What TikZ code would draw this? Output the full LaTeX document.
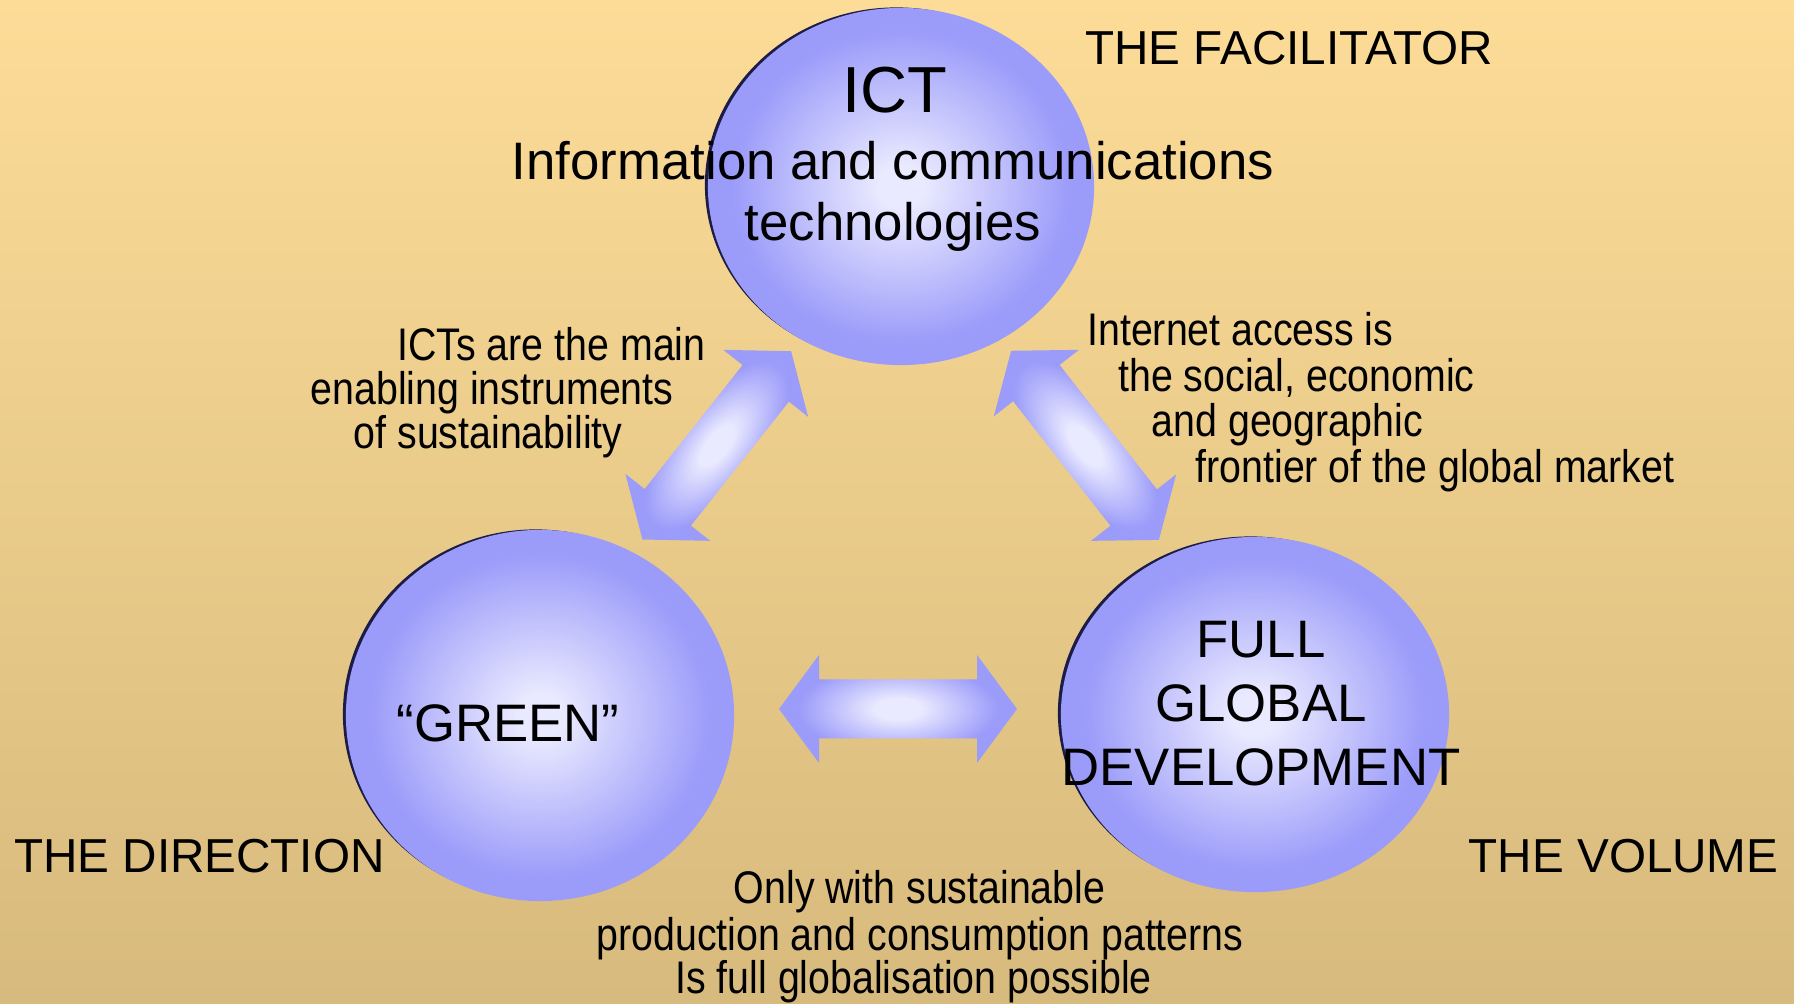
\documentclass[tikz,border=0pt]{standalone}
\usepackage{fontspec}
\setmainfont{Liberation Sans}
\newfontfamily\narrowfont[FakeStretch=0.86]{Liberation Sans}
\usepackage{xcolor}
\usepackage{tikz}
\usetikzlibrary{shapes.geometric}

\definecolor{bgtop}{RGB}{252,220,151}
\definecolor{bgbottom}{RGB}{215,186,125}
\definecolor{ballin}{RGB}{233,233,255}
\definecolor{ballout}{RGB}{155,155,250}
\definecolor{rim}{RGB}{28,28,72}
\pgfdeclareradialshading{ballshade}{\pgfpoint{0bp}{0bp}}{color(0bp)=(ballin); color(3bp)=(ballin); color(22bp)=(ballout); color(25bp)=(ballout); color(50bp)=(ballout)}
\pgfdeclareradialshading{arrowshade}{\pgfpoint{0bp}{0bp}}{color(0bp)=(ballin); color(5bp)=(ballin); color(21bp)=(ballout); color(50bp)=(ballout)}

\begin{document}
\begin{tikzpicture}[x=0.01cm, y=-0.01cm,
        ball/.style={ellipse, shading=ballshade, inner sep=0},
        role/.style={inner sep=0, font=\fontsize{13.55}{16}\selectfont},
        big/.style={inner sep=0, font=\fontsize{15}{18}\selectfont},
        note/.style={inner sep=0, font=\narrowfont\fontsize{13}{15}\selectfont},
        dblarrow/.style={shading=arrowshade}]

        %% Background
        \shade [top color=bgtop, bottom color=bgbottom] (0,0) rectangle (1794,1004);
        \useasboundingbox (0,0) rectangle (1794,1004);

        %% Ellipses
        \fill [rim] (896.5,185) ellipse [x radius=1.915cm, y radius=1.775cm];
        \fill [rim] (535.5,714) ellipse [x radius=1.925cm, y radius=1.845cm];
        \fill [rim] (1250.5,713) ellipse [x radius=1.925cm, y radius=1.765cm];
        \node (ict) [ball, minimum width=3.86cm, minimum height=3.57cm] at (901,186.5) {};
        \node (green) [ball, minimum width=3.88cm, minimum height=3.71cm] at (540,715.5) {};
        \node (full) [ball, minimum width=3.88cm, minimum height=3.55cm] at (1255,714.5) {};

        %% Arrows
        \begin{scope}[transform canvas={shift={(716.75,445.35)}, rotate=51.7}]
            \shade [dblarrow] (-120,0) -- (-79,54) -- (-79,29.5) -- (79,29.5) -- (79,54) -- (120,0) -- (79,-54) -- (79,-29.5) -- (-79,-29.5) -- (-79,-54) -- cycle;
        \end{scope}
        \begin{scope}[transform canvas={shift={(1085,445.35)}, rotate=-52}]
            \shade [dblarrow] (-120,0) -- (-79,54) -- (-79,29.5) -- (79,29.5) -- (79,54) -- (120,0) -- (79,-54) -- (79,-29.5) -- (-79,-29.5) -- (-79,-54) -- cycle;
        \end{scope}
        \begin{scope}[transform canvas={shift={(898,709)}}]
            \shade [dblarrow] (-119,0) -- (-79,54) -- (-79,29.5) -- (79,29.5) -- (79,54) -- (119,0) -- (79,-54) -- (79,-29.5) -- (-79,-29.5) -- (-79,-54) -- cycle;
        \end{scope}

        %% ICT
        \node (ictname) [anchor=base, inner sep=0, font=\fontsize{18.5}{22}\selectfont] at (895,112.7) {ICT};
        \node (ictline1) [big, anchor=base] at (893,179.3) {Information and communications};
        \node (ictline2) [big, anchor=base] at (893,240.7) {technologies};
        \node (facilitator) [role, anchor=base west] at (1084.6,65) {THE FACILITATOR};

        %% Green
        \node (greenname) [big, anchor=base] at (508,742) {“GREEN”};
        \node (direction) [role, anchor=base west] at (13.4,872.6) {THE DIRECTION};

        %% Full global development
        \node (fullline1) [big, anchor=base] at (1261,658) {FULL};
        \node (fullline2) [big, anchor=base] at (1261,722) {GLOBAL};
        \node (fullline3) [big, anchor=base] at (1261,786) {DEVELOPMENT};
        \node (volume) [role, anchor=base west] at (1468,873) {THE VOLUME};

        %% ICT - green
        \node (sustline1) [note, anchor=base west] at (396.7,360.7) {ICTs are the main};
        \node (sustline2) [note, anchor=base west] at (310,404.3) {enabling instruments};
        \node (sustline3) [note, anchor=base west] at (353,448.3) {of sustainability};

        %% ICT - full global development
        \node (netline1) [note, anchor=base west] at (1086.7,345.5) {Internet access is};
        \node (netline2) [note, anchor=base west] at (1117.7,391.7) {the social, economic};
        \node (netline3) [note, anchor=base west] at (1151,436.4) {and geographic};
        \node (netline4) [note, anchor=base west] at (1195,482.7) {frontier of the global market};

        %% Green - full global development
        \node (onlyline1) [note, anchor=base] at (919.6,903) {Only with sustainable};
        \node (onlyline2) [note, anchor=base] at (920,950) {production and consumption patterns};
        \node (onlyline3) [note, anchor=base] at (913.6,993) {Is full globalisation possible};

\end{tikzpicture}
\end{document}
